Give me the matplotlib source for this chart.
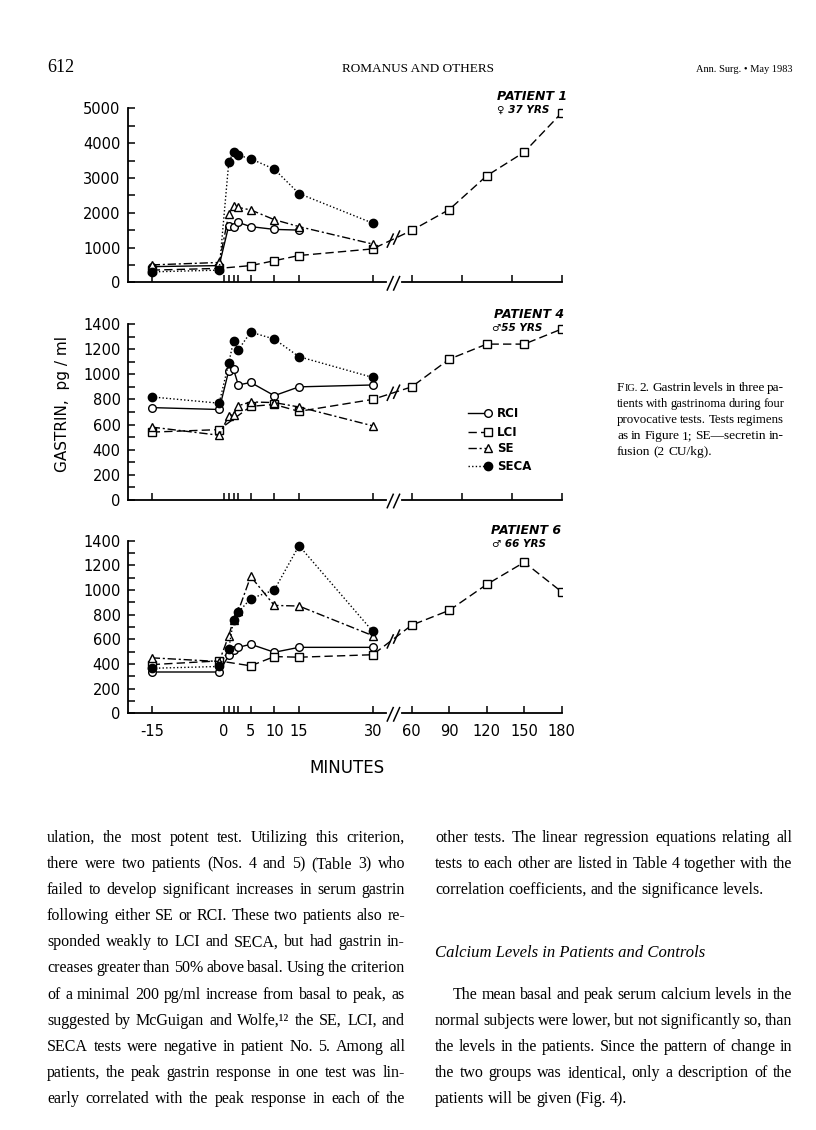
import numpy as np
import matplotlib
matplotlib.use("Agg")
import matplotlib.pyplot as plt
from matplotlib.ticker import MultipleLocator, FixedLocator

W, H = 816, 1130

# sampling times in minutes (-1 = basal sample just before the stimulus)
t_stim = [-15, -1, 1, 2, 3, 5, 10, 15, 30]
t_lci = [-15, -1, 5, 10, 15, 30, 60, 90, 120, 150, 180]

# patient 1 (pg/ml)
p1_rci = [450, 480, 1630, 1600, 1720, 1600, 1520, 1500]   # stops at 15 min
p1_lci = [350, 400, 480, 620, 770, 960, 1490, 2090, 3060, 3740, 4870]
p1_se = [500, 570, 1950, 2200, 2150, 2080, 1800, 1600, 1100]
p1_seca = [300, 350, 3450, 3750, 3650, 3550, 3250, 2550, 1700]

# patient 4
p4_rci = [735, 720, 1030, 1040, 915, 935, 830, 900, 915]
p4_lci = [540, 560, 745, 760, 705, 800, 900, 1120, 1240, 1240, 1360]
p4_se = [580, 515, 670, 680, 750, 780, 775, 740, 590]
p4_seca = [820, 770, 1090, 1265, 1195, 1335, 1280, 1140, 975]

# patient 6
p6_rci = [335, 335, 470, 515, 535, 560, 495, 535, 535]
p6_lci = [395, 425, 385, 460, 455, 475, 715, 835, 1045, 1225, 985]
p6_se = [450, 420, 630, 760, 830, 1110, 875, 870, 630]
p6_seca = [365, 380, 520, 760, 820, 930, 1000, 1360, 665]

# the time axis of the original is drawn piecewise (stretched early minutes, broken after 30)
T_KNOTS = [-20, -15, 0, 3, 5, 10, 15, 30, 60, 180]
P_KNOTS = [127.6, 151.7, 224, 238.3, 250.7, 274.3, 299, 372.7, 411.7, 561.7]


def fwd(t):
    return np.interp(t, T_KNOTS, P_KNOTS)


def inv(p):
    return np.interp(p, P_KNOTS, T_KNOTS)


styles = {
    "RCI": dict(ls="-", marker="o", mfc="white", ms=5.5),
    "LCI": dict(ls=(0, (6, 3)), marker="s", mfc="white", ms=5.5),
    "SE": dict(ls=(0, (6, 2, 1.5, 2)), marker="^", mfc="white", ms=5.5),
    "SECA": dict(ls=(0, (1, 1.6)), marker="o", mfc="black", ms=6),
}

panels = [
    dict(top=108.3, bot=282.3, ymax=5000, major=1000, minor=500,
         rci=p1_rci, lci=p1_lci, se=p1_se, seca=p1_seca,
         title="PATIENT 1", sub="\u2640 37 YRS", tx=497, ty=100, sx=497, sy=113),
    dict(top=324, bot=500, ymax=1400, major=200, minor=100,
         rci=p4_rci, lci=p4_lci, se=p4_se, seca=p4_seca,
         title="PATIENT 4", sub="\u264255 YRS", tx=494, ty=318, sx=492, sy=331),
    dict(top=540.7, bot=713.3, ymax=1400, major=200, minor=100,
         rci=p6_rci, lci=p6_lci, se=p6_se, seca=p6_seca,
         title="PATIENT 6", sub="\u2642 66 YRS", tx=491, ty=534, sx=492, sy=547),
]

plt.rcParams["font.family"] = ["DejaVu Sans"]
fig = plt.figure(figsize=(W / 100, H / 100), dpi=100)
fig.patch.set_facecolor("white")


def px(x, y):
    return x / W, 1 - y / H


for i, p in enumerate(panels):
    ax = fig.add_axes([P_KNOTS[0] / W, 1 - p["bot"] / H,
                       (P_KNOTS[-1] - P_KNOTS[0]) / W, (p["bot"] - p["top"]) / H])
    ax.set_xscale("function", functions=(fwd, inv))
    ax.set_xlim(-20, 180)
    ax.set_ylim(0, p["ymax"])

    ax.plot(t_stim[:len(p["rci"])], p["rci"], color="black", lw=1.0, zorder=3, **styles["RCI"])
    ax.plot(t_lci, p["lci"], color="black", lw=1.0, zorder=3, **styles["LCI"])
    ax.plot(t_stim, p["se"], color="black", lw=1.0, zorder=3, **styles["SE"])
    ax.plot(t_stim, p["seca"], color="black", lw=1.0, zorder=4, **styles["SECA"])

    # break marks on the LCI line
    ah = p["bot"] - p["top"]
    dy = p["ymax"] * 6.5 / ah
    for tb in (43.5, 48.4):
        yc = np.interp(tb, t_lci, p["lci"])
        ax.plot([tb - 2.3, tb + 2.3], [yc - dy, yc + dy], color="black", lw=1.1, zorder=5)

    # broken bottom axis
    for spine in ("top", "right", "bottom"):
        ax.spines[spine].set_visible(False)
    ax.spines["left"].set_linewidth(1.3)
    xt = ax.get_xaxis_transform()
    ax.plot([-20, 40.2], [0, 0], color="black", lw=1.3, transform=xt, clip_on=False)
    ax.plot([52.3, 180], [0, 0], color="black", lw=1.3, transform=xt, clip_on=False)
    for tb in (43.5, 48.4):
        ax.plot([tb - 2.3, tb + 2.3], [-7.7 / ah, 5.7 / ah], color="black", lw=1.1,
                transform=xt, clip_on=False)

    if i < 2:
        ax.xaxis.set_major_locator(FixedLocator([-15, 0, 5, 10, 15, 30, 60, 100, 140, 180]))
        ax.set_xticklabels([])
    else:
        xt_vals = [-15, 0, 5, 10, 15, 30, 60, 90, 120, 150, 180]
        ax.xaxis.set_major_locator(FixedLocator(xt_vals))
        ax.set_xticklabels([str(v) for v in xt_vals], fontsize=10.5)
    ax.xaxis.set_minor_locator(FixedLocator([1, 2, 3]))
    ax.yaxis.set_major_locator(MultipleLocator(p["major"]))
    ax.yaxis.set_minor_locator(MultipleLocator(p["minor"]))
    ax.tick_params(axis="both", which="both", direction="in", length=5, width=1.1,
                   top=False, right=False)
    ax.tick_params(axis="x", which="both", pad=8)
    ax.tick_params(axis="y", which="both", pad=5, labelsize=10.5)
    ax.set_facecolor("none")

    fig.text(*px(p["tx"], p["ty"]), p["title"], fontsize=9, fontweight="bold",
             fontstyle="italic", va="baseline")
    fig.text(*px(p["sx"], p["sy"]), p["sub"], fontsize=7.5, fontweight="bold",
             fontstyle="italic", va="baseline")

    if i == 1:
        rows = [("RCI", 0.494), ("LCI", 0.386), ("SE", 0.295), ("SECA", 0.193)]
        for name, yy in rows:
            st = dict(styles[name])
            ax.plot([0.784, 0.830], [yy, yy], color="black", lw=1.0, ls=st["ls"],
                    transform=ax.transAxes, clip_on=False)
            ax.plot([0.830], [yy], color="black", marker=st["marker"], mfc=st["mfc"],
                    ms=st["ms"], ls="none", transform=ax.transAxes, clip_on=False)
            ax.text(0.851, yy, name, transform=ax.transAxes, fontsize=8.5,
                    fontweight="bold", va="center")

fig.text(*px(63, 404), "GASTRIN,  pg / ml", rotation=90, fontsize=11,
         ha="center", va="center")
fig.text(*px(347, 768), "MINUTES", fontsize=12, ha="center", va="center")

# ---------- page text ----------
serif = "Liberation Serif"
renderer = fig.canvas.get_renderer()


def text_width(s, **kw):
    t = fig.text(0, 0, s, **kw)
    w = t.get_window_extent(renderer).width
    t.remove()
    return w


def word_w(word, size, style):
    if word == "FIG.":
        return (text_width("F", fontsize=size, family=serif)
                + text_width("IG.", fontsize=size * 0.78, family=serif))
    return text_width(word, fontsize=size, family=serif, style=style)


def put_word(x, y, word, size, style):
    if word == "FIG.":
        fig.text(*px(x, y), "F", fontsize=size, family=serif, va="baseline")
        wf = text_width("F", fontsize=size, family=serif)
        fig.text(*px(x + wf, y), "IG.", fontsize=size * 0.78, family=serif, va="baseline")
        return
    fig.text(*px(x, y), word, fontsize=size, family=serif, style=style, va="baseline")


def justify(line, x0, x1, y, size, last=False, style="normal"):
    words = line.split()
    space = text_width("a a", fontsize=size, family=serif) - 2 * text_width("a", fontsize=size, family=serif)
    widths = [word_w(w, size, style) for w in words]
    # shrink the type a little when the line would not fit with tight spaces
    need = sum(widths) + 0.6 * space * (len(words) - 1)
    if need > x1 - x0:
        size = size * (x1 - x0) / need
        space *= (x1 - x0) / need
        widths = [word_w(w, size, style) for w in words]
    gap = space
    if not last and len(words) > 1:
        gap = (x1 - x0 - sum(widths)) / (len(words) - 1)
    x = x0
    for w, wd in zip(words, widths):
        put_word(x, y, w, size, style)
        x += wd + gap


# running head
fig.text(*px(47, 72), "612", fontsize=13, family=serif, va="baseline")
fig.text(*px(418, 72), "ROMANUS AND OTHERS", fontsize=9.5, family=serif,
         ha="center", va="baseline")
fig.text(*px(792, 72), "Ann. Surg. \u2022 May 1983", fontsize=7.5, family=serif,
         ha="right", va="baseline")

caption = [
    "FIG. 2. Gastrin levels in three pa-",
    "tients with gastrinoma during four",
    "provocative tests. Tests regimens",
    "as in Figure 1; SE\u2014secretin in-",
    "fusion (2 CU/kg).",
]
for k, line in enumerate(caption):
    justify(line, 617, 784, 391 + k * 16, 9.6, last=(k == len(caption) - 1))

left_col = [
    "ulation, the most potent test. Utilizing this criterion,",
    "there were two patients (Nos. 4 and 5) (Table 3) who",
    "failed to develop significant increases in serum gastrin",
    "following either SE or RCI. These two patients also re-",
    "sponded weakly to LCI and SECA, but had gastrin in-",
    "creases greater than 50% above basal. Using the criterion",
    "of a minimal 200 pg/ml increase from basal to peak, as",
    "suggested by McGuigan and Wolfe,\u00b9\u00b2 the SE, LCI, and",
    "SECA tests were negative in patient No. 5. Among all",
    "patients, the peak gastrin response in one test was lin-",
    "early correlated with the peak response in each of the",
]
for k, line in enumerate(left_col):
    justify(line, 47, 405, 842 + k * 26.1, 11.5)

right_top = [
    "other tests. The linear regression equations relating all",
    "tests to each other are listed in Table 4 together with the",
    "correlation coefficients, and the significance levels.",
]
for k, line in enumerate(right_top):
    justify(line, 435, 792, 842 + k * 26.1, 11.5, last=(k == 2))

fig.text(*px(435, 957), "Calcium Levels in Patients and Controls", fontsize=12,
         family=serif, style="italic", va="baseline")

right_bot = [
    "The mean basal and peak serum calcium levels in the",
    "normal subjects were lower, but not significantly so, than",
    "the levels in the patients. Since the pattern of change in",
    "the two groups was identical, only a description of the",
    "patients will be given (Fig. 4).",
]
for k, line in enumerate(right_bot):
    x0 = 453 if k == 0 else 435
    justify(line, x0, 792, 999 + k * 26.1, 11.5, last=(k == len(right_bot) - 1))

fig.savefig("out.png", dpi=100, facecolor="white")
